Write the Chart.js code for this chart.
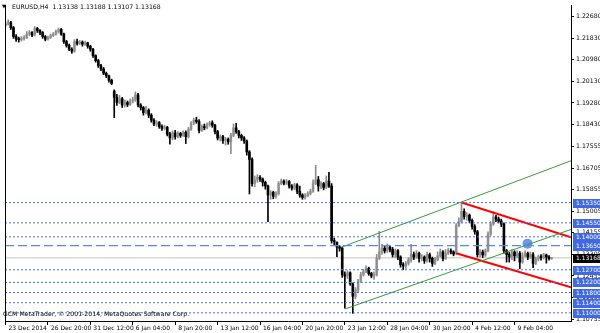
<!DOCTYPE html>
<html>
<head>
<meta charset="utf-8">
<script src="https://cdn.jsdelivr.net/npm/chart.js@4.4.1/dist/chart.umd.min.js"></script>
<style>
  html, body { margin: 0; padding: 0; background: #fff; }
  #wrap { width: 600px; height: 333px; position: relative; }
</style>
</head>
<body>
<div id="wrap"><canvas id="chart"></canvas></div>
<script>
// EURUSD H4 candles (index 0 = 23 Dec 2014)
const opens = [
  1.2233,1.2240,1.2245,1.2225,1.2190,1.2180,1.2178,1.2183,1.2186,1.2200,
  1.2206,1.2196,1.2222,1.2214,1.2206,1.2190,1.2180,1.2186,1.2194,1.2200,
  1.2210,1.2218,1.2200,1.2170,1.2155,1.2140,1.2132,1.2170,1.2163,1.2168,
  1.2160,1.2165,1.2152,1.2140,1.2115,1.2095,1.2075,1.2062,1.2045,1.2035,
  1.2018,1.1975,1.1950,1.1930,1.1945,1.1920,1.1930,1.1922,1.1935,1.1940,
  1.1960,1.1920,1.1910,1.1890,1.1900,1.1880,1.1860,1.1845,1.1850,1.1835,
  1.1828,1.1832,1.1805,1.1790,1.1810,1.1795,1.1808,1.1800,1.1812,1.1795,
  1.1825,1.1848,1.1860,1.1855,1.1820,1.1835,1.1830,1.1842,1.1850,1.1840,
  1.1815,1.1790,1.1795,1.1780,1.1785,1.1775,1.1800,1.1830,1.1815,1.1800,
  1.1790,1.1778,1.1735,1.1705,1.1610,1.1625,1.1635,1.1628,1.1615,1.1600,
  1.1565,1.1575,1.1560,1.1570,1.1610,1.1620,1.1612,1.1618,1.1600,1.1592,
  1.1605,1.1580,1.1565,1.1555,1.1562,1.1570,1.1580,1.1610,1.1625,1.1600,
  1.1610,1.1595,1.1620,1.1600,1.1385,1.1378,1.1360,1.1355,1.1250,1.1245,
  1.1258,1.1215,1.1165,1.1190,1.1225,1.1250,1.1262,1.1275,1.1255,1.1245,
  1.1250,1.1315,1.1340,1.1355,1.1345,1.1360,1.1350,1.1330,1.1345,1.1320,
  1.1290,1.1285,1.1295,1.1310,1.1330,1.1320,1.1335,1.1315,1.1320,1.1305,
  1.1330,1.1315,1.1295,1.1310,1.1325,1.1340,1.1315,1.1335,1.1345,1.1340,
  1.1335,1.1445,1.1460,1.1500,1.1480,1.1485,1.1465,1.1440,1.1420,1.1330,
  1.1340,1.1328,1.1345,1.1410,1.1450,1.1478,1.1470,1.1462,1.1450,1.1345,
  1.1330,1.1320,1.1340,1.1325,1.1335,1.1300,1.1325,1.1335,1.1320,1.1330,
  1.1295,1.1312,1.1322,1.1318,1.1328,1.1320,1.13138
];
const highs = [
  1.2250,1.2256,1.2250,1.2230,1.2198,1.2188,1.2190,1.2194,1.2210,1.2214,
  1.2210,1.2230,1.2226,1.2218,1.2210,1.2194,1.2192,1.2200,1.2206,1.2216,
  1.2224,1.2222,1.2204,1.2175,1.2160,1.2146,1.2178,1.2180,1.2175,1.2173,
  1.2172,1.2168,1.2156,1.2144,1.2118,1.2100,1.2080,1.2068,1.2050,1.2038,
  1.2022,1.1980,1.1962,1.1958,1.1950,1.1940,1.1936,1.1944,1.1950,1.1972,
  1.1966,1.1925,1.1914,1.1915,1.1905,1.1886,1.1866,1.1858,1.1855,1.1842,
  1.1840,1.1836,1.1812,1.1818,1.1820,1.1815,1.1812,1.1818,1.1818,1.1832,
  1.1855,1.1868,1.1872,1.1862,1.1842,1.1845,1.1850,1.1856,1.1858,1.1844,
  1.1820,1.1802,1.1800,1.1792,1.1790,1.1808,1.1845,1.1848,1.1820,1.1805,
  1.1795,1.1782,1.1740,1.1712,1.1640,1.1645,1.1642,1.1632,1.1620,1.1604,
  1.1582,1.1580,1.1578,1.1618,1.1628,1.1625,1.1626,1.1622,1.1606,1.1612,
  1.1610,1.1600,1.1570,1.1570,1.1578,1.1588,1.1625,1.1682,1.1638,1.1618,
  1.1615,1.1640,1.1654,1.1610,1.1395,1.1380,1.1365,1.1360,1.1262,1.1266,
  1.1262,1.1218,1.1200,1.1232,1.1260,1.1272,1.1285,1.1280,1.1260,1.1262,
  1.1330,1.1421,1.1370,1.1365,1.1372,1.1365,1.1358,1.1352,1.1350,1.1325,
  1.1298,1.1302,1.1318,1.1370,1.1340,1.1345,1.1340,1.1330,1.1325,1.1340,
  1.1336,1.1320,1.1318,1.1340,1.1352,1.1346,1.1350,1.1355,1.1352,1.1345,
  1.1452,1.1475,1.1535,1.1510,1.1495,1.1490,1.1470,1.1448,1.1425,1.1350,
  1.1348,1.1352,1.1420,1.1460,1.1499,1.1485,1.1478,1.1470,1.1455,1.1350,
  1.1338,1.1350,1.1345,1.1345,1.1342,1.1338,1.1345,1.1340,1.1340,1.1338,
  1.1320,1.1328,1.1330,1.1335,1.1332,1.1326,1.13188
];
const lows = [
  1.2228,1.2236,1.2218,1.2183,1.2171,1.2168,1.2172,1.2176,1.2182,1.2194,
  1.2190,1.2192,1.2206,1.2198,1.2183,1.2173,1.2176,1.2182,1.2190,1.2196,
  1.2204,1.2195,1.2163,1.2148,1.2134,1.2124,1.2128,1.2156,1.2158,1.2152,
  1.2155,1.2144,1.2132,1.2108,1.2089,1.2068,1.2055,1.2040,1.2028,1.2010,
  1.2000,1.1870,1.1918,1.1925,1.1910,1.1912,1.1914,1.1918,1.1928,1.1934,
  1.1912,1.1900,1.1880,1.1885,1.1870,1.1852,1.1838,1.1836,1.1828,1.1820,
  1.1822,1.1798,1.1765,1.1782,1.1785,1.1790,1.1792,1.1796,1.1768,1.1790,
  1.1820,1.1842,1.1848,1.1810,1.1815,1.1822,1.1826,1.1836,1.1832,1.1806,
  1.1782,1.1778,1.1768,1.1762,1.1765,1.1728,1.1795,1.1808,1.1790,1.1780,
  1.1768,1.1722,1.1569,1.1600,1.1598,1.1615,1.1618,1.1600,1.1588,1.1460,
  1.1548,1.1550,1.1552,1.1565,1.1605,1.1605,1.1606,1.1592,1.1584,1.1586,
  1.1570,1.1556,1.1548,1.1548,1.1558,1.1565,1.1575,1.1605,1.1580,1.1590,
  1.1585,1.1590,1.1595,1.1375,1.1368,1.1322,1.1343,1.1240,1.1118,1.1235,
  1.1208,1.1098,1.1155,1.1180,1.1220,1.1245,1.1258,1.1248,1.1238,1.1232,
  1.1245,1.1310,1.1330,1.1336,1.1338,1.1340,1.1320,1.1318,1.1310,1.1280,
  1.1270,1.1275,1.1288,1.1300,1.1310,1.1315,1.1300,1.1305,1.1295,1.1300,
  1.1300,1.1283,1.1290,1.1305,1.1320,1.1305,1.1310,1.1330,1.1332,1.1325,
  1.1330,1.1440,1.1455,1.1470,1.1465,1.1455,1.1430,1.1410,1.1320,1.1320,
  1.1318,1.1322,1.1340,1.1405,1.1445,1.1460,1.1455,1.1440,1.1335,1.1300,
  1.1300,1.1310,1.1305,1.1318,1.1274,1.1295,1.1320,1.1310,1.1315,1.1278,
  1.1290,1.1305,1.1308,1.1312,1.1296,1.1308,1.13107
];
const closes = [
  1.2240,1.2245,1.2225,1.2190,1.2180,1.2178,1.2183,1.2186,1.2200,1.2206,
  1.2196,1.2222,1.2214,1.2206,1.2190,1.2180,1.2186,1.2194,1.2200,1.2210,
  1.2218,1.2200,1.2170,1.2155,1.2140,1.2132,1.2170,1.2163,1.2168,1.2160,
  1.2165,1.2152,1.2140,1.2115,1.2095,1.2075,1.2062,1.2045,1.2035,1.2018,
  1.2005,1.1950,1.1930,1.1945,1.1920,1.1930,1.1922,1.1935,1.1940,1.1960,
  1.1920,1.1910,1.1890,1.1900,1.1880,1.1860,1.1845,1.1850,1.1835,1.1828,
  1.1832,1.1805,1.1790,1.1810,1.1795,1.1808,1.1800,1.1812,1.1795,1.1825,
  1.1848,1.1860,1.1855,1.1820,1.1835,1.1830,1.1842,1.1850,1.1840,1.1815,
  1.1790,1.1795,1.1780,1.1785,1.1775,1.1800,1.1830,1.1815,1.1800,1.1790,
  1.1778,1.1735,1.1705,1.1610,1.1625,1.1635,1.1628,1.1615,1.1600,1.1565,
  1.1575,1.1560,1.1570,1.1610,1.1620,1.1612,1.1618,1.1600,1.1592,1.1605,
  1.1580,1.1565,1.1555,1.1562,1.1570,1.1580,1.1610,1.1625,1.1600,1.1610,
  1.1595,1.1620,1.1600,1.1385,1.1380,1.1360,1.1355,1.1250,1.1245,1.1258,
  1.1215,1.1165,1.1190,1.1225,1.1250,1.1262,1.1275,1.1255,1.1245,1.1250,
  1.1315,1.1340,1.1355,1.1345,1.1360,1.1350,1.1330,1.1345,1.1320,1.1290,
  1.1285,1.1295,1.1310,1.1330,1.1320,1.1335,1.1315,1.1320,1.1305,1.1330,
  1.1315,1.1295,1.1310,1.1325,1.1340,1.1315,1.1335,1.1345,1.1340,1.1332,
  1.1445,1.1460,1.1500,1.1480,1.1485,1.1465,1.1440,1.1420,1.1330,1.1340,
  1.1328,1.1345,1.1410,1.1450,1.1478,1.1470,1.1462,1.1450,1.1345,1.1330,
  1.1320,1.1340,1.1325,1.1335,1.1300,1.1325,1.1335,1.1320,1.1330,1.1295,
  1.1312,1.1322,1.1318,1.1328,1.1320,1.1314,1.13168
];

// time axis labels every 16 bars
const timeTickIndex = [0, 16, 32, 48, 64, 80, 96, 112, 128, 144, 160, 176, 192];
const timeTickLabels = ['23 Dec 2014', '26 Dec 20:00', '31 Dec 12:00', '6 Jan 04:00', '8 Jan 20:00',
  '13 Jan 12:00', '16 Jan 04:00', '20 Jan 20:00', '23 Jan 12:00', '28 Jan 04:00',
  '30 Jan 20:00', '4 Feb 12:00', '9 Feb 04:00'];

// price scale labels
const priceTicks = [1.22680, 1.21830, 1.20980, 1.20130, 1.19280, 1.18430, 1.17555, 1.16705,
  1.15855, 1.15005, 1.14155, 1.13305, 1.12455, 1.11605, 1.10755];

// horizontal levels
const dottedLevels = [1.15350, 1.14550, 1.14000, 1.12700, 1.12200, 1.11800, 1.11400, 1.11000];
const dashedLevel = 1.13650;
const bidPrice = 1.13168;

// drawn objects: [barIndex, price]
const greenUpper = [[127, 1.1360], [213.3, 1.1700]];
const greenLower = [[128, 1.1115], [213.3, 1.1429]];
const redUpper = [[172, 1.1535], [213.3, 1.1398]];
const redLower = [[170, 1.1335], [213.3, 1.1201]];
const circleMark = [196.9, 1.1373];

const X_MIN = -0.2, X_MAX = 213.3;
const FONT = '"DejaVu Sans", sans-serif';

const isUp = closes.map((c, i) => c >= opens[i]);
const bodyColors = isUp.map(u => u ? '#a4a4a4' : '#000000');
const wickColors = isUp.map(u => u ? '#8c8c8c' : '#000000');

const pts = arr => arr.map(p => ({ x: p[0], y: p[1] }));
const flat = v => [{ x: X_MIN, y: v }, { x: X_MAX, y: v }];

const levelSets = dottedLevels.map(v => ({
  type: 'line', data: flat(v), borderColor: '#4a6fe4', borderWidth: 1,
  borderDash: [2, 2], pointRadius: 0, order: 0
}));

const mtOverlay = {
  id: 'mtOverlay',
  afterDraw(chart) {
    const { ctx, chartArea: a, scales: { y } } = chart;
    ctx.save();
    // left frame
    ctx.strokeStyle = '#000';
    ctx.lineWidth = 1;
    ctx.beginPath();
    ctx.moveTo(a.left + 0.5, a.top);
    ctx.lineTo(a.left + 0.5, a.bottom);
    ctx.stroke();

    ctx.font = '6px ' + FONT;
    ctx.textBaseline = 'middle';
    const box = (v, fill) => {
      const py = Math.round(y.getPixelForValue(v));
      ctx.fillStyle = fill;
      ctx.fillRect(a.right + 2, py - 4, chart.width - a.right - 2, 9);
      ctx.fillStyle = '#fff';
      ctx.fillText(v.toFixed(5), a.right + 5, py + 0.5);
    };
    dottedLevels.forEach(v => box(v, '#4169e1'));
    box(dashedLevel, '#4169e1');
    box(bidPrice, '#000');

    // header and copyright
    const n = closes.length - 1;
    ctx.fillStyle = '#000';
    ctx.font = '5px ' + FONT;
    ctx.fillText('▼', 2, 7);
    ctx.font = '6.2px ' + FONT;
    ctx.fillText('EURUSD,H4  ' + [opens[n], highs[n], lows[n], closes[n]].map(v => v.toFixed(5)).join(' '), 12, 7);
    ctx.fillText('GCM MetaTrader, \u00A9 2001-2014, MetaQuotes Software Corp.', 3, a.bottom - 7);
    ctx.restore();
  }
};

new Chart(document.getElementById('chart'), {
  type: 'bar',
  data: {
    datasets: [
      ...levelSets,
      { type: 'line', data: flat(dashedLevel), borderColor: '#5b87f0', borderWidth: 1.3,
        borderDash: [9, 4], pointRadius: 0, order: 0 },
      { type: 'line', data: flat(bidPrice), borderColor: '#c4c4c4', borderWidth: 1,
        pointRadius: 0, order: 2 },
      { type: 'line', data: pts(greenUpper), borderColor: '#3a9a3a', borderWidth: 1, pointRadius: 0, order: 0 },
      { type: 'line', data: pts(greenLower), borderColor: '#3a9a3a', borderWidth: 1, pointRadius: 0, order: 0 },
      { type: 'line', data: pts(redUpper), borderColor: '#ff0000', borderWidth: 2, pointRadius: 0, order: 0 },
      { type: 'line', data: pts(redLower), borderColor: '#ff0000', borderWidth: 2, pointRadius: 0, order: 0 },
      { type: 'scatter', data: [{ x: circleMark[0], y: circleMark[1] }], pointRadius: 5,
        backgroundColor: 'rgba(80,135,230,0.85)', borderWidth: 0, order: 0 },
      { label: 'wick', data: closes.map((c, i) => ({ x: i, y: [lows[i], highs[i]] })),
        backgroundColor: wickColors, barThickness: 1, grouped: false, order: 1 },
      { label: 'body', data: closes.map((c, i) => ({ x: i, y: [opens[i], c] })),
        backgroundColor: bodyColors, barThickness: 2, minBarLength: 1, grouped: false, order: 1 }
    ]
  },
  options: {
    responsive: true,
    maintainAspectRatio: false,
    animation: false,
    layout: { padding: 0 },
    plugins: { legend: { display: false }, tooltip: { enabled: false } },
    scales: {
      x: {
        type: 'linear', min: X_MIN, max: X_MAX, offset: false,
        grid: { drawOnChartArea: false, drawTicks: true, tickLength: 4, color: '#000', offset: false },
        border: { color: '#000' },
        ticks: {
          autoSkip: false, maxRotation: 0, align: 'start', labelOffset: 3, padding: 0,
          color: '#000', font: { family: FONT, size: 6 },
          callback: v => timeTickLabels[timeTickIndex.indexOf(v)] || ''
        },
        afterBuildTicks: s => { s.ticks = timeTickIndex.map(v => ({ value: v })); },
        afterFit: s => { s.height = 12; s.paddingLeft = 0; s.paddingRight = 0; }
      },
      y: {
        position: 'right', min: 1.10677, max: 1.23146,
        grid: { drawOnChartArea: false, drawTicks: true, tickLength: 3, color: '#000' },
        border: { color: '#000' },
        ticks: {
          autoSkip: false, padding: 2, color: '#000', font: { family: FONT, size: 6.2 },
          callback: v => v.toFixed(5)
        },
        afterBuildTicks: s => { s.ticks = priceTicks.map(v => ({ value: v })); },
        afterFit: s => { s.width = 29; s.paddingTop = 0; s.paddingBottom = 0; }
      }
    }
  },
  plugins: [mtOverlay]
});
</script>
</body>
</html>
